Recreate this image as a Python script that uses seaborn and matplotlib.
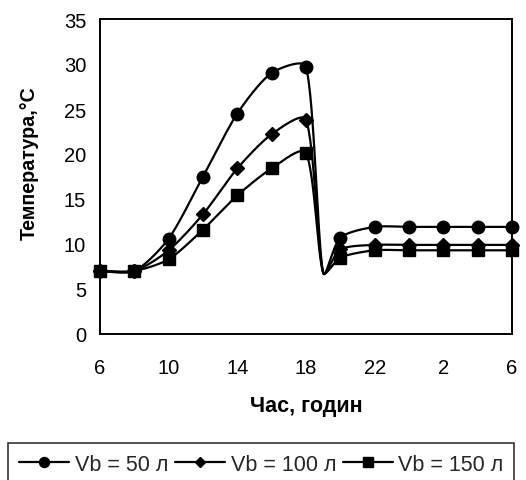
import numpy as np
import pandas as pd
import matplotlib
matplotlib.use("Agg")
import matplotlib.pyplot as plt
from matplotlib.lines import Line2D
import seaborn as sns

# Hours of the day (6 h .. 6 h next morning, as 6..30)
hours = [6, 8, 10, 12, 14, 16, 18, 20, 22, 24, 26, 28, 30]
tick_hours = [6, 10, 14, 18, 22, 26, 30]
tick_labels = ["6", "10", "14", "18", "22", "2", "6"]

# Water temperature in the tank for three tank volumes
t_50 = [7.0, 7.0, 10.6, 17.5, 24.5, 29.0, 29.7, 10.7, 11.9, 11.9, 11.9, 11.9, 11.9]
t_100 = [7.0, 7.0, 9.3, 13.3, 18.4, 22.2, 23.8, 9.4, 9.9, 9.9, 9.9, 9.9, 9.9]
t_150 = [7.0, 7.0, 8.3, 11.6, 15.4, 18.4, 20.1, 8.5, 9.3, 9.3, 9.3, 9.3, 9.3]
series_names = ["Vb = 50 л", "Vb = 100 л", "Vb = 150 л"]

# Evening draw-off: tank refilled with cold mains water
drain_hour = 19.0
cold_water = 6.8

sns.set_theme(style="white")
plt.rcParams["font.family"] = ["Liberation Sans", "DejaVu Sans"]

fig = plt.figure(figsize=(5.26, 4.81), dpi=100)
ax = fig.add_axes([100 / 526, 1 - 335 / 481, 412 / 526, 315 / 481])
ax.set_xlim(6, 30)
ax.set_ylim(0, 35)


def smooth_path(xs, ys, n=50):
    """Bezier smoothing computed in display space, with control arms
    limited by the length of each segment."""
    pts = ax.transData.transform(np.column_stack([xs, ys]))
    out = [pts[0]]
    m = len(pts)
    for i in range(m - 1):
        p0 = pts[i - 1] if i > 0 else pts[i]
        p1, p2 = pts[i], pts[i + 1]
        p3 = pts[i + 2] if i + 2 < m else pts[i + 1]
        d02 = np.linalg.norm(p2 - p0)
        d12 = np.linalg.norm(p2 - p1)
        d13 = np.linalg.norm(p3 - p1)
        f1 = min(1 / 6, d12 / (4 * d02)) if d02 > 0 else 0
        f2 = min(1 / 6, d12 / (4 * d13)) if d13 > 0 else 0
        c1 = p1 + f1 * (p2 - p0)
        c2 = p2 - f2 * (p3 - p1)
        t = np.linspace(0, 1, n)[1:, None]
        seg = ((1 - t) ** 3) * p1 + 3 * ((1 - t) ** 2) * t * c1 + 3 * (1 - t) * t ** 2 * c2 + t ** 3 * p2
        out.extend(seg)
    out = ax.transData.inverted().transform(np.array(out))
    return out[:, 0], out[:, 1]


markers = {"Vb = 50 л": "o", "Vb = 100 л": "D", "Vb = 150 л": "s"}
msizes = {"Vb = 50 л": 9, "Vb = 100 л": 7, "Vb = 150 л": 8.5}

curves = []
points = []
for name, temps in zip(series_names, [t_50, t_100, t_150]):
    xs = list(hours)
    ys = list(temps)
    k = xs.index(20)
    xs.insert(k, drain_hour)
    ys.insert(k, cold_water)
    sx, sy = smooth_path(np.array(xs, float), np.array(ys, float))
    curves.append(pd.DataFrame({"hour": sx, "temp": sy, "series": name}))
    points.append(pd.DataFrame({"hour": hours, "temp": temps, "series": name}))

curve_df = pd.concat(curves, ignore_index=True)
point_df = pd.concat(points, ignore_index=True)

sns.lineplot(data=curve_df, x="hour", y="temp", units="series", estimator=None, sort=False,
             color="black", linewidth=1.6, ax=ax, legend=False)

for name in series_names[::-1]:
    sub = point_df[point_df["series"] == name]
    ax.plot(sub["hour"], sub["temp"], linestyle="none", marker=markers[name],
            markersize=msizes[name], color="black", clip_on=False, zorder=5)

ax.set_xticks(tick_hours)
ax.set_xticklabels(tick_labels)
ax.set_yticks(range(0, 36, 5))
ax.tick_params(axis="both", direction="inout", length=10, width=1.4, colors="black",
               labelsize=14.5)
ax.tick_params(axis="y", pad=5)
ax.tick_params(axis="x", pad=12)
for sp in ax.spines.values():
    sp.set_visible(True)
    sp.set_color("black")
    sp.set_linewidth(1.4)

ax.set_xlabel("Час, годин", fontsize=15.5, fontweight="bold", color="black")
ax.set_ylabel("Температура,°C", fontsize=14.2, fontweight="bold", color="black")
ax.xaxis.set_label_coords(0.5, -0.194)
ax.yaxis.set_label_coords(-0.148, 0.546)

handles = [Line2D([0], [0], color="black", linewidth=1.6, marker=markers[n],
                  markersize=msizes[n] * 0.8) for n in series_names]
leg = fig.legend(handles, series_names, ncol=3, loc="upper left",
                 bbox_to_anchor=(8 / 526, 1 - 444 / 481), frameon=True, fancybox=False,
                 fontsize=15.5, handlelength=2.35, handletextpad=0.25, columnspacing=0.3,
                 borderpad=0.5, borderaxespad=0)
leg.get_frame().set_edgecolor("black")
leg.get_frame().set_linewidth(1.2)

fig.savefig("out.png", dpi=100)
